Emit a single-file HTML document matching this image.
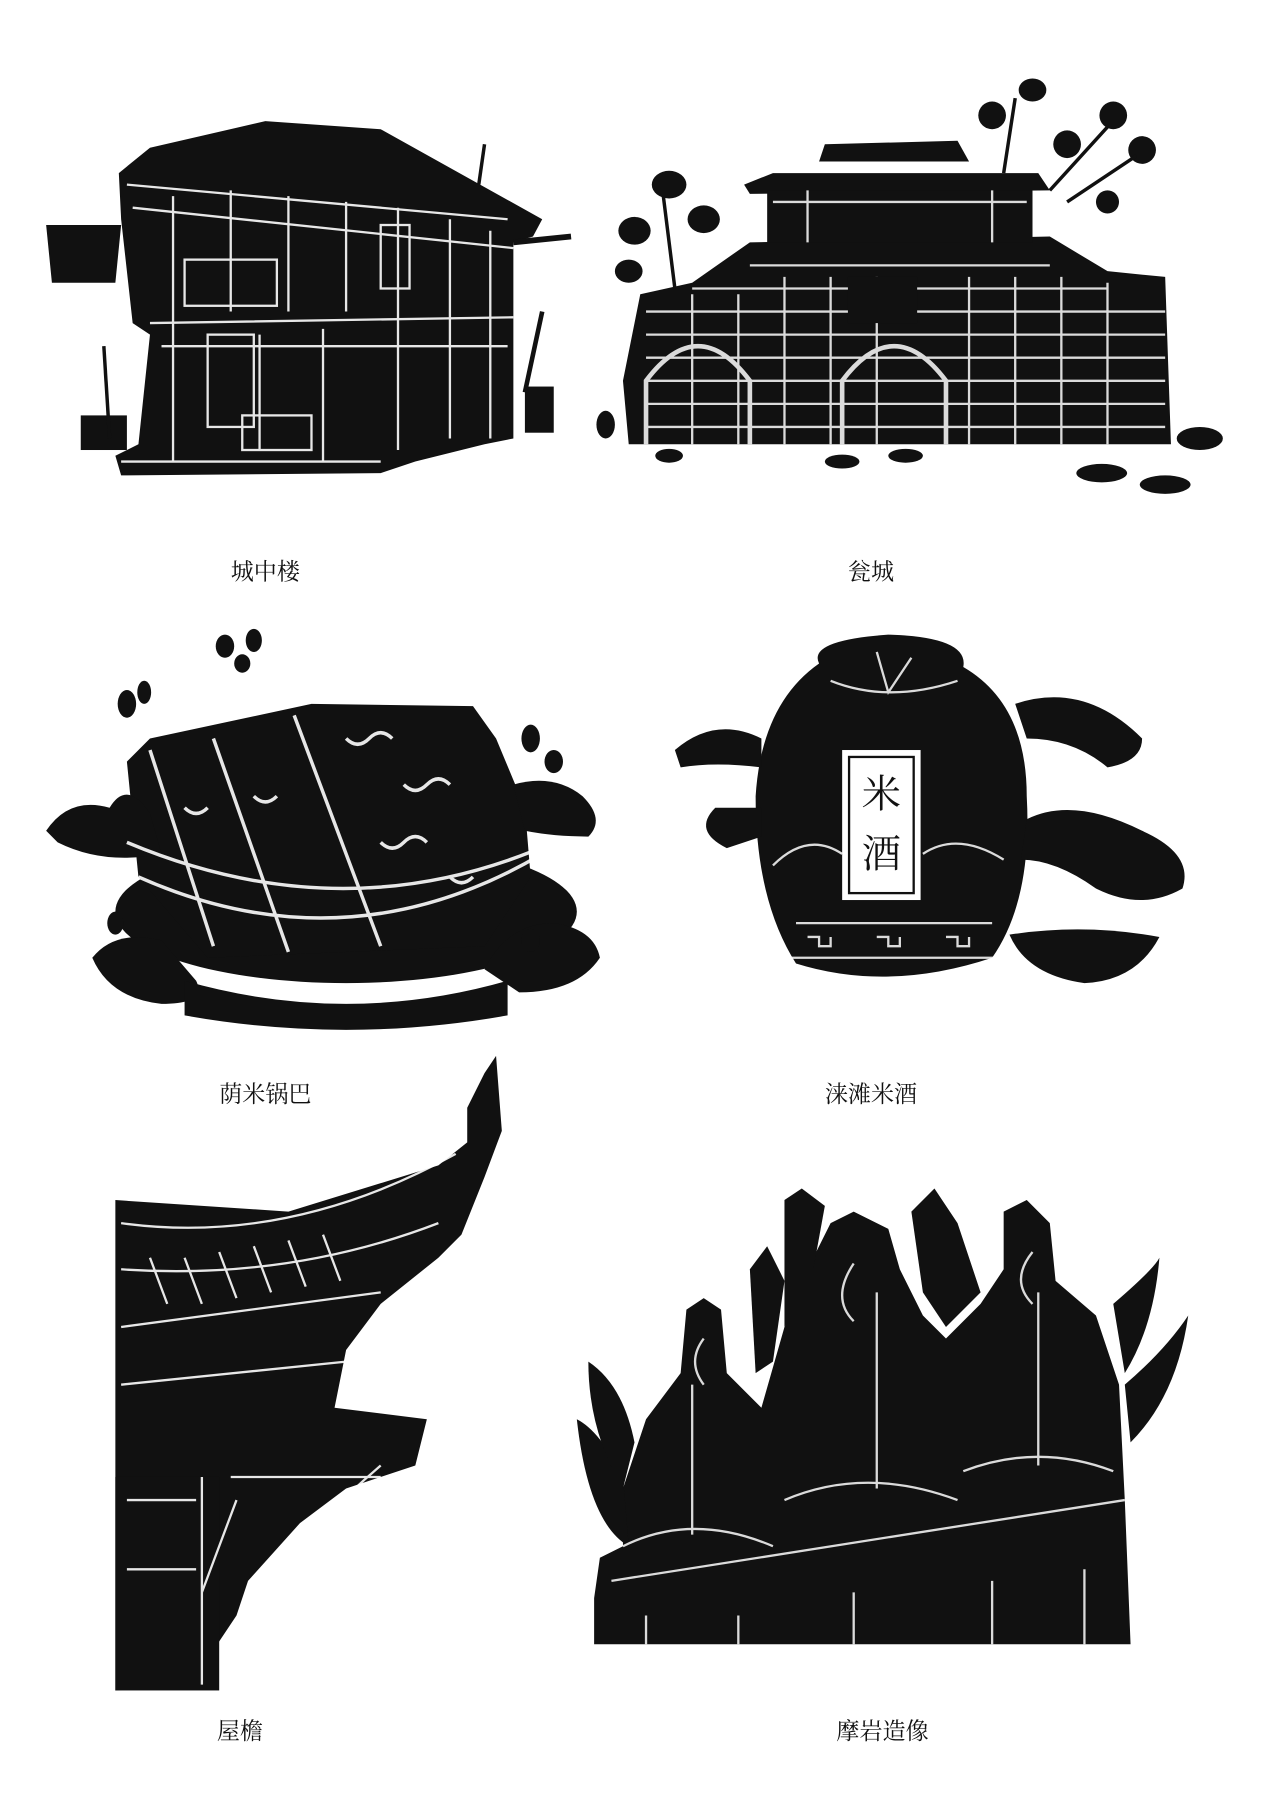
<!DOCTYPE html>
<html><head><meta charset="utf-8"><style>
html,body{margin:0;padding:0;background:#fff;}
svg{display:block}
text{font-family:"Liberation Serif","Noto Serif CJK SC",serif;font-size:20px;fill:#111}
</style></head><body>
<svg width="1269" height="1807" viewBox="0 0 1100 1566" preserveAspectRatio="none" xmlns="http://www.w3.org/2000/svg">
<rect width="1100" height="1566" fill="#fff"/>
<!-- Building -->
<g>
<polygon points="103,150 130,128 230,105 330,112 470,190 462,205 445,210 445,380 420,385 360,400 330,410 105,412 100,395 120,385 130,290 115,280 105,190" fill="#111"/>
<polygon points="40,195 105,195 100,245 45,245" fill="#111"/>
<rect x="455" y="335" width="25" height="40" fill="#111"/>
<rect x="70" y="360" width="40" height="30" fill="#111"/>
<line x1="445" y1="210" x2="495" y2="205" stroke="#111" stroke-width="5"/>
<line x1="415" y1="160" x2="420" y2="125" stroke="#111" stroke-width="3"/>
<line x1="470" y1="270" x2="455" y2="340" stroke="#111" stroke-width="4"/>
<line x1="90" y1="300" x2="95" y2="380" stroke="#111" stroke-width="3"/>
<g stroke="#fff" stroke-width="2" fill="none" opacity="0.9">
<path d="M110,160 L440,190 M115,180 L445,215 M130,280 L445,275 M140,300 L440,300 M105,400 L330,400"/>
<path d="M150,170 V400 M200,165 V270 M250,170 V270 M300,175 V270 M345,180 V390 M390,190 V380 M425,200 V380 M280,285 V400 M225,290 V390"/>
<rect x="160" y="225" width="80" height="40"/><rect x="330" y="195" width="25" height="55"/>
<rect x="210" y="360" width="60" height="30"/><rect x="180" y="290" width="40" height="80"/>
</g>
</g>
<!-- Fortress -->
<g fill="#111">
<polygon points="555,255 600,245 650,210 910,205 960,235 1010,240 1015,385 545,385 540,330"/>
<polygon points="645,160 670,150 900,150 910,165 650,168"/>
<polygon points="715,125 830,122 840,140 710,140"/>
<rect x="665" y="165" width="230" height="45"/>
<ellipse cx="580" cy="160" rx="15" ry="12"/><ellipse cx="550" cy="200" rx="14" ry="12"/><ellipse cx="545" cy="235" rx="12" ry="10"/><ellipse cx="610" cy="190" rx="14" ry="12"/>
<ellipse cx="895" cy="78" rx="12" ry="10"/><ellipse cx="860" cy="100" rx="12" ry="12"/><ellipse cx="965" cy="100" rx="12" ry="12"/><ellipse cx="990" cy="130" rx="12" ry="12"/><ellipse cx="925" cy="125" rx="12" ry="12"/><ellipse cx="960" cy="175" rx="10" ry="10"/>
<ellipse cx="525" cy="368" rx="8" ry="12"/><ellipse cx="1040" cy="380" rx="20" ry="10"/><ellipse cx="955" cy="410" rx="22" ry="8"/><ellipse cx="1010" cy="420" rx="22" ry="8"/><ellipse cx="580" cy="395" rx="12" ry="6"/><ellipse cx="730" cy="400" rx="15" ry="6"/><ellipse cx="785" cy="395" rx="15" ry="6"/>
</g>
<g stroke="#111" stroke-width="3" fill="none"><path d="M585,250 L575,170 M870,150 L880,85 M910,165 L960,110 M925,175 L985,135"/></g>
<g stroke="#fff" stroke-width="2" fill="none" opacity="0.85">
<path d="M560,270 H1010 M560,290 H1010 M560,310 H1010 M560,330 H1010 M560,350 H1010 M560,370 H1010 M600,250 H960 M650,230 H910"/>
<path d="M600,255 V385 M640,255 V385 M680,240 V385 M720,240 V385 M760,240 V385 M840,240 V385 M880,240 V385 M920,240 V385 M960,245 V385"/>
<path d="M560,385 V330 Q605,270 650,330 V385" stroke-width="4"/>
<path d="M730,385 V330 Q775,270 820,330 V385" stroke-width="4"/>
<path d="M670,175 H890 M700,165 V210 M860,165 V210"/>
</g>
<rect x="735" y="240" width="60" height="40" fill="#111"/>
<!-- Guoba -->
<g fill="#111">
<ellipse cx="300" cy="790" rx="200" ry="62"/>
<polygon points="110,660 130,640 270,610 410,612 430,640 455,700 460,760 420,820 180,830 120,760"/>
<path d="M40,720 Q60,690 95,700 Q110,675 130,705 L140,740 Q90,750 50,730 Z"/>
<path d="M445,680 Q480,670 505,690 Q525,710 510,725 Q480,725 455,720 Z"/>
<path d="M80,830 Q100,805 140,815 L170,850 Q180,870 140,870 Q95,865 80,830 Z"/>
<path d="M420,840 Q440,800 480,800 Q515,805 520,830 Q500,860 450,860 Z"/>
<path d="M160,850 Q300,890 440,850 L440,880 Q300,905 160,880Z"/>
<ellipse cx="110" cy="610" rx="8" ry="12"/><ellipse cx="125" cy="600" rx="6" ry="10"/><ellipse cx="195" cy="560" rx="8" ry="10"/><ellipse cx="220" cy="555" rx="7" ry="10"/><ellipse cx="210" cy="575" rx="7" ry="8"/>
<ellipse cx="460" cy="640" rx="8" ry="12"/><ellipse cx="480" cy="660" rx="8" ry="10"/><ellipse cx="100" cy="800" rx="7" ry="10"/><ellipse cx="460" cy="815" rx="8" ry="10"/>
</g>
<g stroke="#fff" stroke-width="3" fill="none" opacity="0.9">
<path d="M130,650 L185,820 M185,640 L250,825 M255,620 L330,820 M120,760 Q300,840 470,740 M110,730 Q300,810 480,730"/>
<path d="M300,640 q10,10 20,0 t20,0 M350,680 q10,10 20,0 t20,0 M330,730 q10,10 20,0 t20,0 M390,760 q10,10 20,0 M220,690 q10,10 20,0 M160,700 q10,10 20,0"/>
</g>
<!-- Jar -->
<g fill="#111">
<path d="M710,575 Q700,555 770,550 Q840,552 835,578 Q890,610 890,690 Q895,780 860,830 Q770,860 690,835 Q655,780 655,690 Q660,610 710,575 Z"/>
<path d="M585,650 Q620,620 660,640 L660,665 Q620,660 590,665 Z"/>
<path d="M620,700 Q600,720 630,735 L660,725 L660,700 Z"/>
<path d="M880,610 Q940,590 990,640 Q990,660 960,665 Q930,640 890,640 Z"/>
<path d="M890,710 Q930,690 990,720 Q1035,740 1025,770 Q990,790 950,770 Q915,745 885,745 Z"/>
<path d="M875,810 Q940,800 1005,812 Q985,850 940,852 Q890,845 875,810 Z"/>
</g>
<rect x="730" y="650" width="68" height="130" fill="#fff"/>
<rect x="736" y="656" width="56" height="118" fill="none" stroke="#111" stroke-width="2"/>
<text x="764" y="700" text-anchor="middle" style="font-size:34px;font-family:'Noto Serif CJK SC',serif">米</text>
<text x="764" y="752" text-anchor="middle" style="font-size:34px;font-family:'Noto Serif CJK SC',serif">酒</text>
<g stroke="#fff" stroke-width="2" fill="none" opacity="0.85">
<path d="M690,800 H860 M685,830 H865 M700,812 h10 v8 h10 v-8 M760,812 h10 v8 h10 v-8 M820,812 h10 v8 h10 v-8"/>
<path d="M670,750 Q700,720 730,740 M800,740 Q830,720 870,745 M720,590 Q770,610 830,590 M760,565 L770,600 L790,570"/>
</g>
<!-- Eave -->
<g fill="#111">
<polygon points="100,1040 250,1050 380,1010 405,990 405,960 420,930 430,915 435,980 420,1020 400,1070 380,1090 330,1130 300,1170 290,1220 370,1230 360,1270 300,1290 260,1320 215,1370 205,1400 165,1460 100,1465"/>
</g>
<rect x="100" y="1280" width="90" height="185" fill="#111"/>
<g stroke="#fff" stroke-width="2" fill="none" opacity="0.9">
<path d="M105,1060 Q250,1080 395,1000 M105,1100 Q250,1110 380,1060 M105,1150 L330,1120 M105,1200 L300,1180 M200,1280 L330,1280 M175,1280 V1460 M110,1300 H170 M110,1360 H170 M205,1300 L175,1380 M210,1400 Q260,1330 330,1270"/>
<path d="M130,1090 l15,40 M160,1090 l15,40 M190,1085 l15,40 M220,1080 l15,40 M250,1075 l15,40 M280,1070 l15,40"/>
</g>
<!-- Statues -->
<g fill="#111">
<polygon points="515,1385 520,1350 540,1340 540,1290 560,1230 590,1190 595,1135 610,1125 625,1135 630,1190 660,1220 680,1150 700,1100 720,1060 740,1050 770,1065 780,1100 800,1140 820,1160 850,1130 870,1100 870,1050 890,1040 910,1060 915,1110 950,1140 970,1200 975,1300 980,1425 515,1425"/>
<polygon points="680,1040 695,1030 715,1045 705,1100 690,1130 680,1150"/>
<polygon points="790,1050 810,1030 830,1060 850,1120 820,1150 800,1120"/>
<polygon points="650,1100 665,1080 680,1110 670,1180 655,1190"/>
<path d="M500,1230 Q520,1240 540,1280 L545,1340 Q510,1320 500,1230 Z"/>
<path d="M510,1180 Q540,1200 550,1250 L540,1290 Q510,1240 510,1180 Z"/>
<path d="M965,1130 Q1000,1100 1005,1090 Q1000,1150 975,1190 Z"/>
<path d="M975,1200 Q1010,1170 1030,1140 Q1020,1210 980,1250 Z"/>
</g>
<g stroke="#fff" stroke-width="2" fill="none" opacity="0.85">
<path d="M530,1370 L975,1300 M540,1340 Q600,1310 670,1340 M680,1300 Q750,1270 830,1300 M835,1275 Q900,1250 965,1275"/>
<path d="M610,1160 q-15,20 0,40 M740,1095 q-20,30 0,50 M895,1085 q-20,25 0,45 M760,1120 V1290 M600,1200 V1330 M900,1120 V1270"/>
<path d="M560,1400 V1425 M640,1400 V1425 M740,1380 V1425 M860,1370 V1425 M940,1360 V1425"/>
</g>
<!-- Labels -->
<text x="230" y="502" text-anchor="middle">城中楼</text>
<text x="755" y="502" text-anchor="middle">瓮城</text>
<text x="230" y="955" text-anchor="middle">荫米锅巴</text>
<text x="755" y="955" text-anchor="middle">涞滩米酒</text>
<text x="208" y="1507" text-anchor="middle">屋檐</text>
<text x="765" y="1507" text-anchor="middle">摩岩造像</text>
</svg>
</body></html>
